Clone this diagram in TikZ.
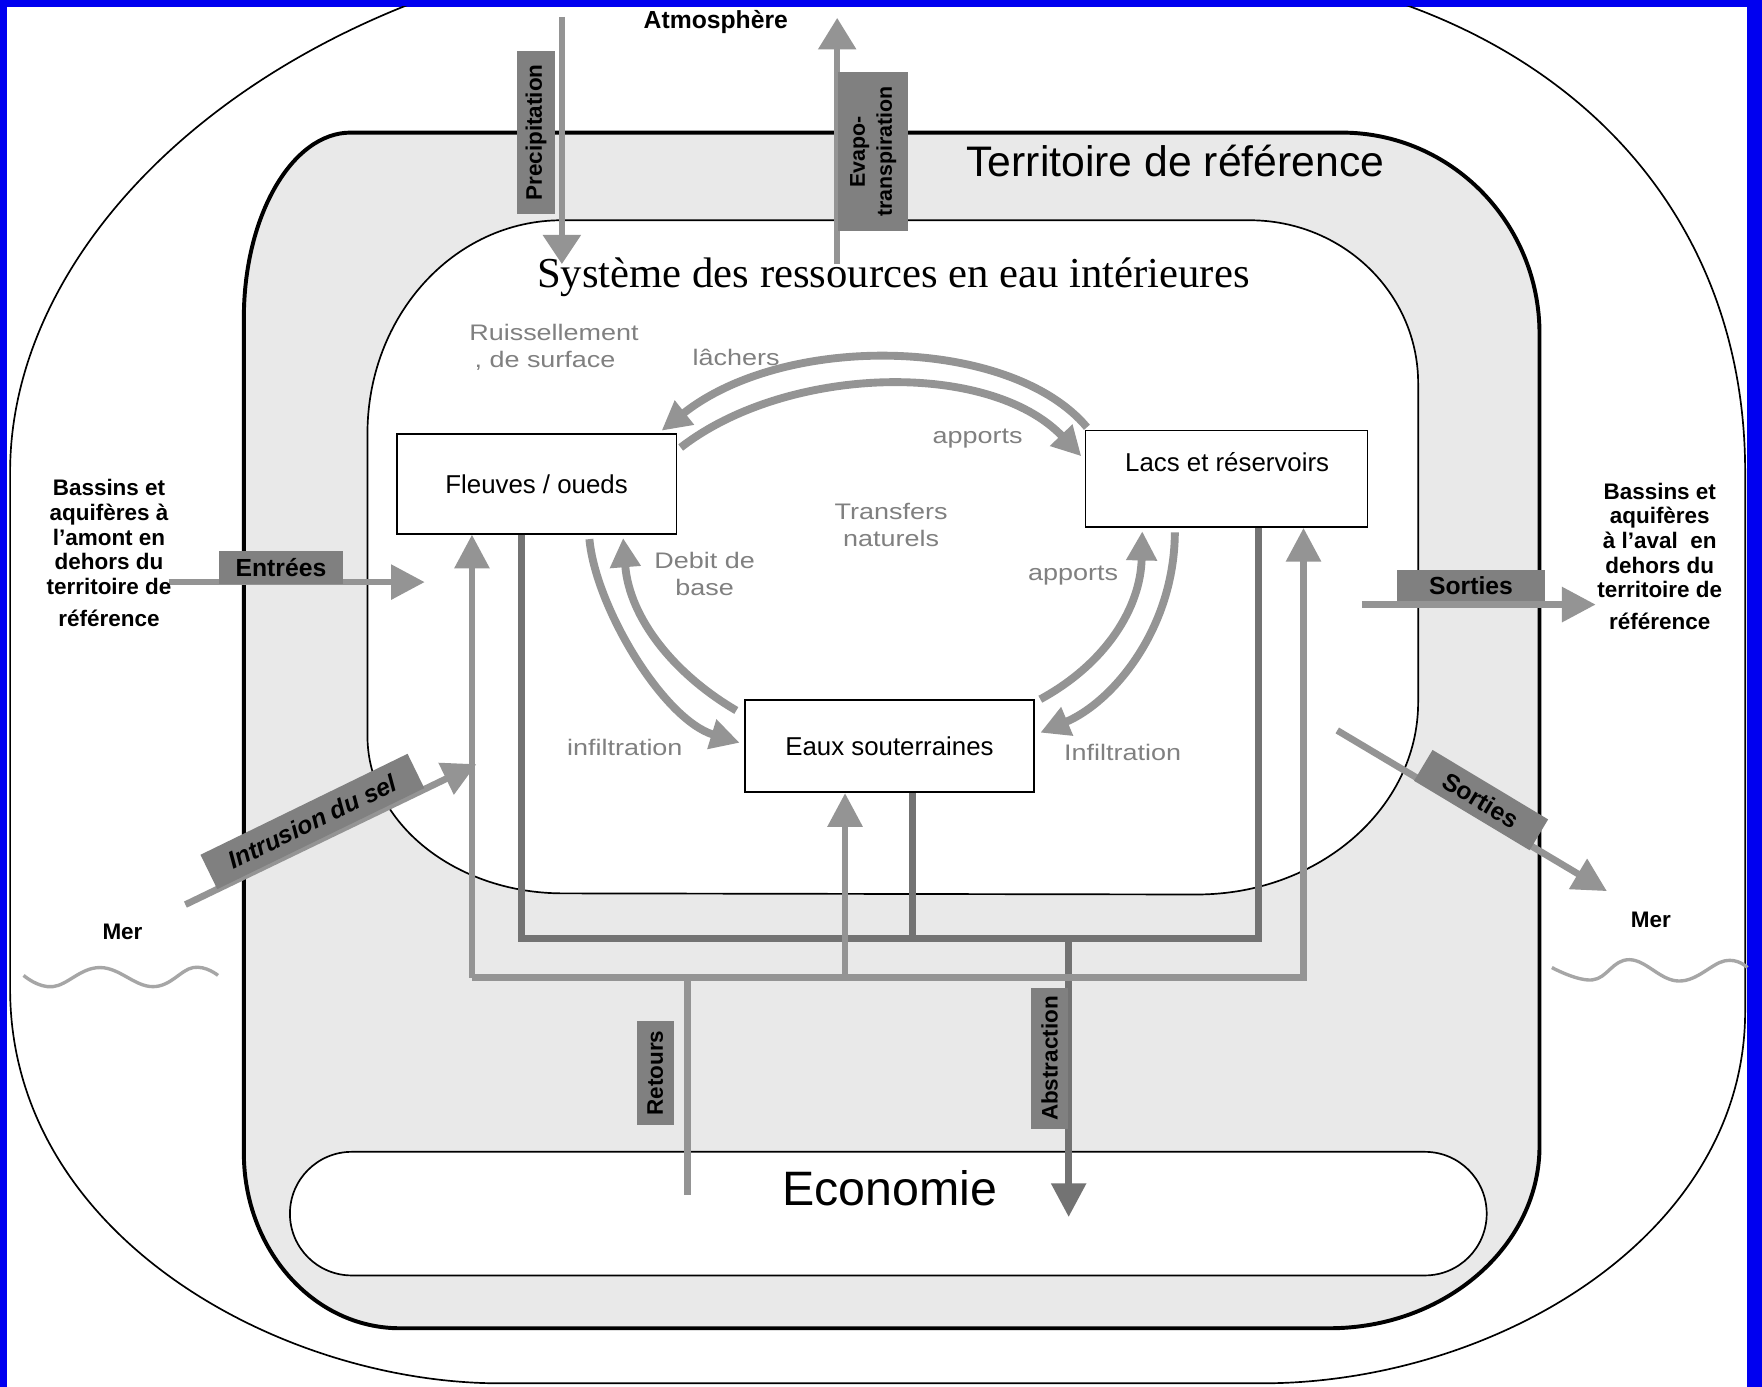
\documentclass[tikz,border=0pt]{standalone}
\usepackage{fontspec}
\setmainfont{Liberation Sans}
\newfontfamily\titleserif{Liberation Serif}
\newfontfamily\widesans[FakeStretch=1.2]{Liberation Sans}
\usetikzlibrary{arrows.meta,calc}
\definecolor{frameblue}{RGB}{0,0,240}
\definecolor{pipegray}{gray}{0.58}
\definecolor{pipedark}{gray}{0.45}
\definecolor{taggray}{gray}{0.50}
\definecolor{stipple}{gray}{0.915}
\definecolor{softtext}{gray}{0.50}
\begin{document}
\begin{tikzpicture}[x=1pt,y=-1pt,
  pipeo/.style={draw=pipegray, line width=6pt},
  pipei/.style={draw=pipedark, line width=6pt},
  bigtip/.style={-{Triangle[width=30pt,length=30pt]}},
  arcflow/.style={draw=pipegray, line width=7pt, -{Triangle[width=26pt,length=26pt]}},
  flowtag/.style={fill=taggray, inner sep=0pt, font=\bfseries\fontsize{20}{22}\selectfont},
  wbox/.style={draw, line width=1.5pt, fill=white, font=\fontsize{23}{26}\selectfont},
  softlbl/.style={text=softtext, font=\widesans\fontsize{20}{24}\selectfont, align=center},
  sidetxt/.style={align=center, font=\bfseries\fontsize{20}{22}\selectfont},
  wavy/.style={draw=gray!70, line width=3pt}
]
\useasboundingbox (0,0) rectangle (1568,1234);
\fill[frameblue] (0,0) rectangle (1568,1234);
\fill[white] (6,6) rectangle (1555,1234);

% outer region
\begin{scope}
\clip (6,6) rectangle (1555,1234);
\draw[line width=1.5pt] (9,420) .. controls (9,230) and (190,40) .. (470,-30) -- (1100,-30)
  .. controls (1370,0) and (1553,170) .. (1553,420) -- (1553,900)
  .. controls (1553,1100) and (1330,1231) .. (1123,1231) -- (445,1231)
  .. controls (250,1231) and (9,1100) .. (9,880) -- cycle;
\end{scope}

% Territoire de reference
\draw[line width=3.5pt, fill=stipple] (217,283) .. controls (217,192) and (260,118) .. (312,118) -- (1194,118)
  .. controls (1291,118) and (1370,198) .. (1370,297) -- (1370,1020)
  .. controls (1370,1109) and (1286,1182) .. (1183,1182) -- (356,1182)
  .. controls (279,1182) and (217,1112) .. (217,1026) -- cycle;

% Systeme
\draw[line width=1.5pt, fill=white] (327,386) .. controls (327,281) and (404,196) .. (500,196) -- (1112,196)
  .. controls (1195,196) and (1262,261) .. (1262,341) -- (1262,625)
  .. controls (1262,719) and (1174,796) .. (1065,796) -- (501,795)
  .. controls (405,795) and (327,732) .. (327,655) -- cycle;

% titles
\node[font=\bfseries\fontsize{22}{24}\selectfont] (atmo) at (637,20) {Atmosphère};
\node[font=\fontsize{38}{40}\selectfont] (terr) at (1046,143) {Territoire de référence};
\node[font=\titleserif\fontsize{38}{40}\selectfont] (syst) at (795,247) {Système des ressources en eau intérieures};

% boxes
\node[wbox, minimum width=249pt, minimum height=89pt] (fleuves) at (477.5,430.5) {Fleuves / oueds};
\node[wbox, minimum width=251pt, minimum height=86pt] (lacs) at (1091.5,426) {};
\node[font=\fontsize{23}{26}\selectfont] (lacstxt) at (1092,411) {Lacs et réservoirs};
\node[wbox, minimum width=257pt, minimum height=82pt] (eaux) at (791.5,664) {Eaux souterraines};
\node[draw, line width=1.5pt, fill=white, rounded corners=55pt, minimum width=1065pt, minimum height=110pt] (eco) at (790.5,1080) {};
\node[font=\fontsize{43}{46}\selectfont] (ecotxt) at (792,1057) {Economie};

% pipe coordinates
\coordinate (oL) at (420,870);
\coordinate (oR) at (1160,870);
\coordinate (oE) at (752,870);
\coordinate (oRet) at (612,870);
\coordinate (retEnd) at (612,1063);
\coordinate (iL) at (464,835);
\coordinate (iR) at (1120,835);
\coordinate (iE) at (812,835);
\coordinate (iA) at (951,835);
\coordinate (abEnd) at (951,1083);

% inner loop (abstraction)
\draw[pipei] (iL |- fleuves.south) -- (iL) -- (iR) -- (iR |- lacs.south);
\draw[pipei] (iE |- eaux.south) -- (iE);
\draw[pipei, bigtip] (iA) -- (abEnd);
% outer loop (returns)
\draw[pipeo, bigtip] (oL) -- (oL |- fleuves.south);
\draw[pipeo, bigtip] (oL) -- (oR) -- (oR |- lacs.south);
\draw[pipeo, bigtip] (oE) -- (oE |- eaux.south);
\draw[pipeo] (oRet) -- (retEnd);

% natural transfers
\draw[arcflow] ($(lacs.north west)+(2,-2)$) .. controls (900,300) and (700,295) .. ($(fleuves.north east)+(-14,-2)$);
\draw[arcflow] ($(fleuves.north east)+(3,13)$) .. controls (700,325) and (880,320) .. ($(lacs.west)+(-3,-20)$);
\draw[arcflow] ($(fleuves.south)+(47,4)$) .. controls (530,540) and (590,640) .. ($(eaux.west)+(-4,-3)$);
\draw[arcflow] ($(eaux.north west)+(-7,10)$) .. controls (600,600) and (560,550) .. ($(fleuves.south)+(77,3)$);
\draw[arcflow] ($(eaux.north east)+(5,0)$) .. controls (985,590) and (1015,540) .. ($(lacs.south)+(-75,3)$);
\draw[arcflow] ($(lacs.south)+(-46,4)$) .. controls (1045,560) and (990,625) .. ($(eaux.east)+(5,-12)$);

% external flows
\coordinate (prS) at (500,15);
\coordinate (prE) at (500,235);
\coordinate (evS) at (745,235);
\coordinate (evE) at (745,16);
\coordinate (enS) at (150,518);
\coordinate (enE) at (378,518);
\coordinate (soS) at (1212,538);
\coordinate (soE) at (1420,538);
\coordinate (sdS) at (1190,650);
\coordinate (sdE) at (1430,793);
\coordinate (inS) at (165,805);
\coordinate (inE) at (424,680);
\draw[pipeo, line width=5pt, -{Triangle[width=33pt,length=26pt]}] (prS) -- (prE);
\draw[pipeo, line width=5pt, -{Triangle[width=33pt,length=28pt]}] (evS) -- (evE);
\draw[pipeo, bigtip] (enS) -- (enE);
\draw[pipeo, bigtip] (soS) -- (soE);
\draw[pipeo, bigtip] (sdS) -- (sdE);
\draw[pipeo, bigtip] (inS) -- (inE);

% flow tags
\node[flowtag, rotate=90, minimum width=145pt, minimum height=34pt] (precipL) at (477,118) {Precipitation};
\node[flowtag, rotate=90, minimum width=142pt, minimum height=62pt, align=center, font=\bfseries\fontsize{19}{24}\selectfont] (evapL) at (777,135) {Evapo-\\transpiration};
\node[flowtag, minimum width=110pt, minimum height=30pt, font=\bfseries\fontsize{22}{24}\selectfont] (entL) at (250,505) {Entrées};
\node[flowtag, minimum width=132pt, minimum height=28pt, font=\bfseries\fontsize{22}{24}\selectfont] (sorL) at (1309,521) {Sorties};
\node[flowtag, rotate=-31, minimum width=120pt, minimum height=32pt, font=\bfseries\fontsize{22}{24}\selectfont] (sordL) at (1318,712) {Sorties};
\node[flowtag, rotate=26, minimum width=205pt, minimum height=34pt, font=\bfseries\itshape\fontsize{22}{24}\selectfont] (intL) at (278,731) {Intrusion du sel};
\node[flowtag, rotate=90, minimum width=92pt, minimum height=33pt] (retL) at (583,955) {Retours};
\node[flowtag, rotate=90, minimum width=126pt, minimum height=33pt] (absL) at (934,942) {Abstraction};

% soft labels
\node[softlbl] (ruis1) at (493,296) {Ruissellement};
\node[softlbl] (ruis2) at (485,321) {, de surface};
\node[softlbl] (lach) at (655,318) {lâchers};
\node[softlbl] (app1) at (870,390) {apports};
\node[softlbl] (trans) at (793,467) {Transfers\\naturels};
\node[softlbl] (debit) at (627,511) {Debit de\\base};
\node[softlbl] (app2) at (955,512) {apports};
\node[softlbl] (inf1) at (556,665) {infiltration};
\node[softlbl] (inf2) at (999,670) {Infiltration};

% side labels
\node[sidetxt] (bassL) at (97,492) {Bassins et\\aquifères à\\l'amont en\\dehors du\\territoire de\\[6pt]référence};
\node[sidetxt] (bassR) at (1477,495) {Bassins et\\aquifères\\à l'aval~~en\\dehors du\\territoire de\\[6pt]référence};
\node[sidetxt] (merL) at (109,829) {Mer};
\node[sidetxt] (merR) at (1469,819) {Mer};

% waves
\draw[wavy] plot[smooth, tension=0.7] coordinates {(21,868) (47,878) (89,861) (136,878) (172,861) (194,868)};
\draw[wavy] plot[smooth, tension=0.7] coordinates {(1381,861) (1417,872) (1450,854) (1494,873) (1535,855) (1555,861)};
\end{tikzpicture}
\end{document}
